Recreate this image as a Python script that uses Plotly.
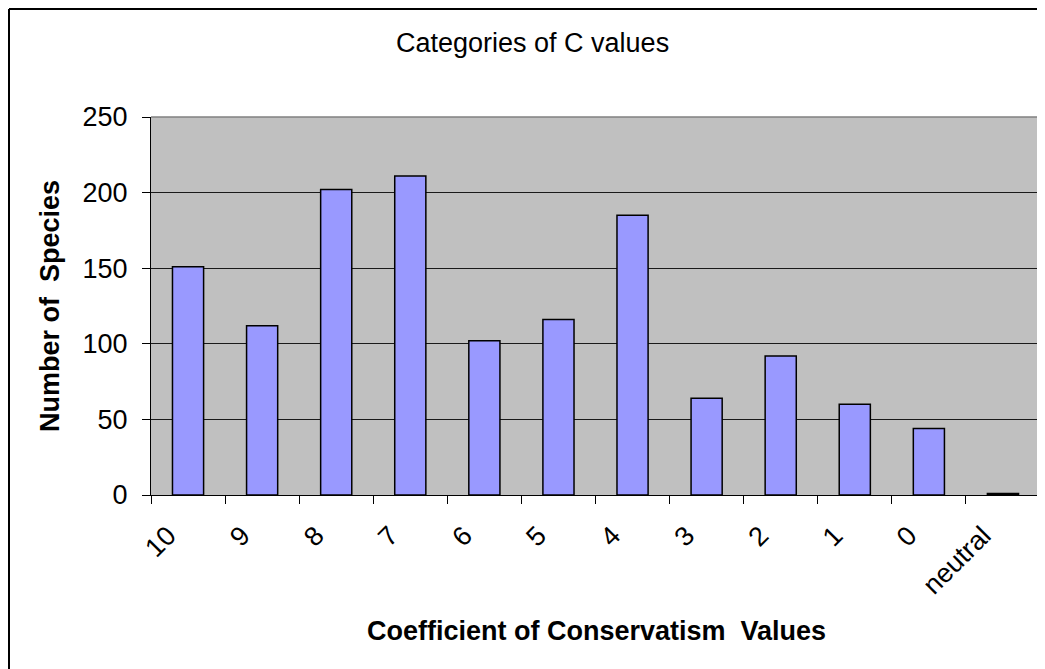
import plotly.graph_objects as go

categories = ["10", "9", "8", "7", "6", "5", "4", "3", "2", "1", "0", "neutral"]
species_counts = [151, 112, 202, 211, 102, 116, 185, 64, 92, 60, 44, 1]
y_ticks = [0, 50, 100, 150, 200, 250]

W, H = 1045, 669
OFF = 8  # page body margin offset
L, R, T, B = 151 - OFF, 1040 - OFF, 117 - OFF, 495 - OFF
FONT = "Liberation Sans, Arial, sans-serif"

fig = go.Figure()
fig.add_trace(go.Bar(
    x=categories, y=species_counts,
    marker=dict(color="#9999FF", line=dict(color="black", width=1.5)),
    hoverinfo="x+y",
))

def px_x(p):
    return (p - OFF - L) / (R - L)

def px_y(p):
    return (B - (p - OFF)) / (B - T)

fig.update_layout(
    width=W, height=H,
    margin=dict(l=L, r=W - R, t=T, b=H - B, pad=0),
    paper_bgcolor="white",
    plot_bgcolor="#C0C0C0",
    bargap=0.58,
    showlegend=False,
    font=dict(family=FONT, size=27, color="black"),
    xaxis=dict(
        type="category",
        tickson="boundaries",
        ticks="outside", ticklen=8, tickcolor="black", tickwidth=1,
        tickangle=-45,
        ticklabelstandoff=13,
        ticklabelshift=-20,
        showline=True, linecolor="black", linewidth=1,
        showgrid=False,
        tickfont=dict(family=FONT, size=27, color="black"),
    ),
    yaxis=dict(
        range=[0, 250],
        tickvals=y_ticks,
        ticks="outside", ticklen=8, tickcolor="black", tickwidth=1,
        ticklabelstandoff=9,
        showline=True, linecolor="black", linewidth=1,
        showgrid=True, gridcolor="#1a1a1a", gridwidth=1,
        zeroline=False,
        tickfont=dict(family=FONT, size=27, color="black"),
    ),
    annotations=[
        dict(text="Categories of C values", xref="paper", yref="paper",
             x=px_x(532), y=px_y(43), xanchor="center", yanchor="middle",
             showarrow=False, font=dict(family=FONT, size=27, color="black")),
        dict(text="<b>Coefficient of Conservatism\u00a0\u00a0Values</b>", xref="paper", yref="paper",
             x=px_x(596), y=px_y(631), xanchor="center", yanchor="middle",
             showarrow=False, font=dict(family=FONT, size=27, color="black")),
        dict(text="<b>Number of\u00a0\u00a0Species</b>", xref="paper", yref="paper",
             x=px_x(50), y=px_y(306), xanchor="center", yanchor="middle",
             textangle=-90,
             showarrow=False, font=dict(family=FONT, size=27, color="black")),
    ],
    shapes=[
        # plot-area border (top and right, grey)
        dict(type="line", xref="paper", yref="paper", x0=0, x1=1, y0=1, y1=1,
             line=dict(color="#808080", width=1.5), layer="above"),
        dict(type="line", xref="paper", yref="paper", x0=1, x1=1, y0=0, y1=1,
             line=dict(color="#808080", width=1.5), layer="above"),
        # chart frame (left and top visible at the page edge)
        dict(type="line", xref="paper", yref="paper",
             x0=px_x(OFF + 1), x1=px_x(OFF + 1), y0=px_y(H + 20), y1=px_y(OFF + 1),
             line=dict(color="black", width=2)),
        dict(type="line", xref="paper", yref="paper",
             x0=px_x(OFF + 1), x1=px_x(W + 20), y0=px_y(OFF + 1), y1=px_y(OFF + 1),
             line=dict(color="black", width=2)),
    ],
)

fig.write_html("out.html")
